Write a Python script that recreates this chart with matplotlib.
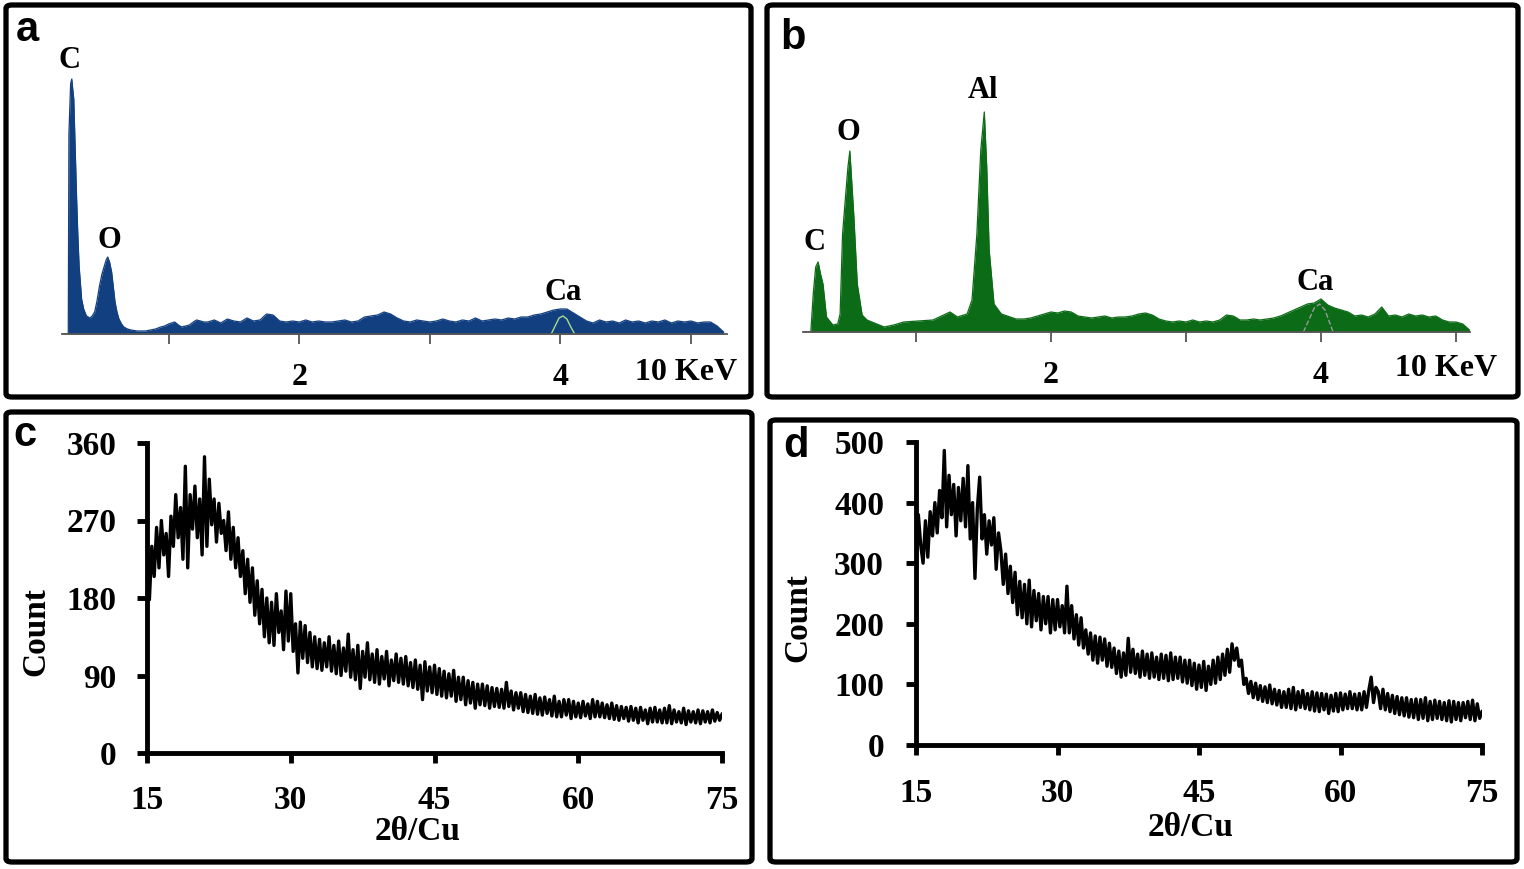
import numpy as np
import matplotlib
matplotlib.use('Agg')
import matplotlib.pyplot as plt
from matplotlib.patches import FancyBboxPatch

W, H = 1524, 869

# ---- (a) EDX spectrum, sample 1 : energy (keV) / counts (arb.) ----
a_peak_E = [0.184, 0.232, 0.237, 0.250, 0.259, 0.266, 0.274, 0.285, 0.296, 0.305,
            0.315, 0.334, 0.350, 0.371, 0.397, 0.415, 0.434, 0.452, 0.471, 0.490,
            0.508, 0.522, 0.534, 0.548, 0.564, 0.578, 0.590, 0.605, 0.620, 0.640,
            0.657, 0.685, 0.712, 0.760, 0.824, 0.860, 0.900, 0.940, 0.970, 1.000,
            1.047, 1.075, 1.100, 1.130, 1.160, 1.190, 1.214, 1.245, 1.270]
a_peak_h = [0, 0, 200, 250, 255, 245, 235, 185, 135, 100,
            68, 35, 25, 18, 16, 18, 22, 33, 48, 60,
            68, 74, 77, 72, 62, 46, 32, 22, 15, 10,
            7, 5, 4, 3, 3, 4, 5, 7, 8, 10,
            12, 9, 7, 8, 9, 12, 14, 13, 12]
a_flat_E = np.round(np.arange(1.30, 5.26, 0.05), 2)
a_flat_h = [12, 14, 11, 15, 13, 12, 16, 13, 14,
            20, 19, 13,
            12, 13, 12, 14, 12, 13, 12, 12, 13, 14, 12, 13,
            17, 18, 19, 22, 20, 16,
            13, 12, 14, 13, 12, 13, 15, 13, 12, 14, 13, 16, 13,
            14, 15, 14, 16, 15, 17, 17,
            19, 20, 22, 24,
            25, 25,
            21, 17,
            13, 11, 14, 12, 13, 11, 14, 12, 13, 11, 13, 12, 14, 11, 13, 12, 13, 11, 12, 12,
            8, 2]
a_ca_E = [3.93, 3.96, 3.99, 4.02, 4.05, 4.08, 4.11]
a_ca_h = [0, 8, 16, 18, 15, 7, 0]

# ---- (b) EDX spectrum, sample 2 ----
b_peak_E = [0.163, 0.221, 0.239, 0.257, 0.275, 0.293, 0.311, 0.337, 0.384, 0.420,
            0.438, 0.456, 0.482, 0.496, 0.510, 0.525, 0.540, 0.565, 0.601, 0.637,
            0.691, 0.764, 0.836, 0.909, 1.017, 1.126, 1.252, 1.307, 1.379, 1.415,
            1.451, 1.480, 1.506, 1.524, 1.542, 1.578, 1.632, 1.741]
b_peak_h = [0, 0, 38, 65, 70, 58, 48, 15, 7, 8,
            18, 98, 142, 165, 181, 148, 115, 48, 17, 12,
            9, 5, 7, 10, 11, 12, 20, 15, 18, 32,
            98, 182, 220, 165, 82, 28, 18, 13]
b_flat_E = np.round(np.arange(1.80, 5.11, 0.05), 2)
b_flat_h = [13, 14, 16, 18,
            20, 19, 21, 20,
            16, 15, 14, 15, 16, 14, 15, 15, 16,
            18, 19, 17,
            13, 11, 10, 11, 10, 12, 10, 11, 10, 12,
            17, 16, 12,
            12, 13, 12, 13, 14, 16,
            19, 22, 25,
            28, 29,
            33, 27,
            24, 22, 20,
            16, 17, 15, 18, 25, 16, 17, 15, 18, 16, 17, 15, 16,
            12, 10, 10, 8,
            2]
b_ca_E = [3.87, 3.91, 3.95, 3.99, 4.03, 4.06, 4.09]
b_ca_h = [0, 12, 24, 28, 22, 11, 0]

edx_ticks = [1, 2, 3, 4, 5]
edx_ticklabels = ['', '2', '', '4', '']

# ---- (c), (d) XRD patterns : 2theta 15..75 step 0.25 ----
two_theta = np.round(np.arange(15, 75.001, 0.25), 2)
xrd_c = [250, 178, 240, 205, 262, 215, 270, 230, 255, 205, 275, 240,
         300, 250, 285, 225, 333, 215, 300, 260, 310, 250, 295, 230,
         344, 240, 318, 265, 295, 245, 290, 255, 270, 235, 280, 225,
         262, 215, 250, 205, 235, 185, 225, 175, 215, 160, 200, 150,
         190, 135, 180, 128, 175, 125, 185, 140, 165, 120, 188, 130,
         185, 118, 150, 93, 152, 110, 148, 105, 140, 100, 135, 98,
         132, 96, 128, 100, 135, 95, 125, 92, 130, 90, 122, 95,
         138, 88, 120, 85, 125, 75, 118, 88, 128, 85, 115, 82,
         120, 80, 112, 86, 118, 78, 108, 84, 115, 82, 110, 80,
         112, 78, 105, 76, 108, 74, 102, 62, 106, 72, 100, 70,
         102, 68, 98, 66, 95, 64, 92, 66, 96, 60, 88, 62,
         88, 56, 84, 58, 82, 52, 80, 56, 80, 55, 78, 52,
         76, 54, 75, 53, 74, 52, 82, 54, 72, 50, 70, 52,
         70, 48, 68, 47, 66, 46, 68, 45, 64, 44, 65, 46,
         62, 43, 66, 42, 60, 42, 62, 44, 62, 40, 60, 42,
         58, 41, 60, 43, 57, 40, 62, 42, 60, 42, 58, 41,
         56, 40, 58, 39, 55, 38, 54, 40, 53, 37, 54, 38,
         52, 35, 53, 38, 50, 34, 52, 36, 53, 36, 50, 35,
         52, 35, 55, 34, 50, 36, 48, 35, 52, 33, 49, 36,
         48, 35, 50, 34, 49, 36, 48, 35, 50, 37, 47, 38,
         45]
xrd_d = [290, 380, 330, 300, 370, 310, 385, 345, 400, 350, 420, 375,
         486, 360, 445, 380, 430, 345, 425, 370, 440, 360, 461, 340,
         400, 275, 390, 442, 340, 380, 315, 370, 330, 375, 290, 350,
         320, 265, 315, 250, 295, 235, 285, 215, 270, 210, 265, 200,
         272, 195, 255, 205, 250, 190, 245, 200, 245, 185, 240, 190,
         240, 195, 230, 185, 262, 185, 230, 175, 215, 165, 210, 160,
         190, 150, 185, 140, 180, 135, 178, 140, 175, 130, 168, 128,
         160, 118, 155, 112, 152, 115, 176, 120, 158, 118, 150, 112,
         155, 115, 150, 110, 152, 112, 145, 108, 150, 110, 148, 106,
         152, 108, 145, 110, 145, 104, 140, 102, 140, 98, 135, 92,
         132, 95, 138, 90, 130, 100, 140, 102, 145, 108, 150, 115,
         158, 120, 167, 140, 160, 130, 140, 100, 110, 85, 105, 78,
         102, 75, 98, 72, 96, 70, 99, 68, 92, 66, 90, 62,
         88, 62, 92, 60, 95, 58, 88, 62, 90, 60, 85, 58,
         88, 56, 86, 55, 85, 58, 84, 52, 82, 56, 85, 55,
         86, 58, 84, 60, 88, 60, 84, 58, 85, 58, 88, 62,
         90, 112, 70, 95, 88, 60, 92, 58, 85, 55, 82, 52,
         80, 50, 78, 48, 78, 46, 75, 45, 76, 42, 75, 44,
         78, 40, 72, 42, 74, 44, 72, 42, 70, 40, 73, 38,
         72, 42, 70, 40, 70, 45, 72, 42, 74, 40, 68, 44,
         55]
xrd_ticks = [15, 30, 45, 60, 75]
c_yticks = [0, 90, 180, 270, 360]
d_yticks = [0, 100, 200, 300, 400, 500]

serif = 'Liberation Serif'
sans = 'Liberation Sans'
blue = '#123f80'
green = '#0c6b16'

fig = plt.figure(figsize=(W / 100, H / 100), dpi=100)


def px_axes(x0, y_top, x1, y_bot):
    return fig.add_axes([x0 / W, 1 - y_bot / H, (x1 - x0) / W, (y_bot - y_top) / H])


def panel_box(x0, y0, x1, y1):
    fig.add_artist(FancyBboxPatch((x0 / W, 1 - y1 / H), (x1 - x0) / W, (y1 - y0) / H,
                                  boxstyle='round,pad=0,rounding_size=0.004',
                                  transform=fig.transFigure, fill=False,
                                  ec='black', lw=3.8))


def edx_panel(ax, E, h, col, ca_E, ca_h, ca_style, xlim, labels):
    ax.fill_between(E, h, color=col, lw=0)
    ax.plot(E, h, color=col, lw=0.9)
    ax.plot(ca_E, ca_h, **ca_style)
    ax.set_xlim(*xlim)
    ax.set_ylim(0, 275)
    for s in ['left', 'right', 'top']:
        ax.spines[s].set_visible(False)
    ax.spines['bottom'].set_color('#555555')
    ax.spines['bottom'].set_linewidth(1.3)
    ax.set_yticks([])
    ax.set_xticks(edx_ticks)
    ax.set_xticklabels(edx_ticklabels, fontsize=23, fontweight='bold', family=serif)
    ax.tick_params(axis='x', direction='out', length=7, width=1.3, color='#555555', pad=14)
    for txt, ex, ey in labels:
        ax.text(ex, ey, txt, ha='center', va='center', fontsize=22,
                fontweight='bold', family=serif)
    ax.patch.set_alpha(0)


def xrd_panel(ax, y, yticks, ymax, padx, pady):
    ax.plot(two_theta, y, color='black', lw=2.4)
    ax.set_xlim(15, 75)
    ax.set_ylim(0, ymax)
    ax.set_xticks(xrd_ticks)
    ax.set_yticks(yticks)
    for s in ['right', 'top']:
        ax.spines[s].set_visible(False)
    for s in ['left', 'bottom']:
        ax.spines[s].set_linewidth(3.5)
    ax.tick_params(axis='both', direction='out', length=7, width=3.5, labelsize=24)
    ax.tick_params(axis='x', pad=padx)
    ax.tick_params(axis='y', pad=pady)
    for lab in ax.get_xticklabels() + ax.get_yticklabels():
        lab.set_family(serif)
        lab.set_fontweight('bold')
    ax.patch.set_alpha(0)


# panel a
ax_a = px_axes(62, 59, 727, 334)
edx_panel(ax_a, list(a_peak_E) + list(a_flat_E), a_peak_h + a_flat_h, blue,
          a_ca_E, a_ca_h, dict(color='#a8dc8c', lw=1.0), (0.184, 5.276),
          [('C', 0.245, 274), ('O', 0.544, 93), ('Ca', 4.02, 42)])
ax_a.text(4.96, -38 / 275, '10 KeV', transform=ax_a.get_xaxis_transform(),
          ha='center', va='center', fontsize=23, fontweight='bold', family=serif)

# panel b
ax_b = px_axes(803, 57, 1470, 332)
edx_panel(ax_b, list(b_peak_E) + list(b_flat_E), b_peak_h + b_flat_h, green,
          b_ca_E, b_ca_h, dict(color='#9a9a9a', lw=1.0, ls='--'), (0.163, 5.104),
          [('C', 0.25, 90), ('O', 0.50, 200), ('Al', 1.50, 242), ('Ca', 3.96, 49)])
ax_b.text(4.93, -36 / 275, '10 KeV', transform=ax_b.get_xaxis_transform(),
          ha='center', va='center', fontsize=23, fontweight='bold', family=serif)

# panel c
ax_c = px_axes(147, 443, 722, 753)
xrd_panel(ax_c, xrd_c, c_yticks, 360, 16, 15)

# panel d
ax_d = px_axes(916, 442, 1482, 745)
xrd_panel(ax_d, xrd_d, d_yticks, 500, 17, 16)

# axis titles
for x, y in [(36, 632), (798, 618)]:
    fig.text(x / W, 1 - y / H, 'Count', rotation=90, ha='center', va='center',
             fontsize=24, fontweight='bold', family=serif)
for x, y in [(418, 831), (1191, 828)]:
    fig.text(x / W, 1 - y / H, '2\u03b8/Cu', ha='center', va='center',
             fontsize=24, fontweight='bold', family=serif)

# panel letters
for letter, x, y in [('a', 27, 30), ('b', 793, 38), ('c', 25, 435), ('d', 796, 446)]:
    fig.text(x / W, 1 - y / H, letter, ha='center', va='center',
             fontsize=30, fontweight='bold', family=sans)

# panel frames
panel_box(6, 5, 751, 397)
panel_box(767, 5, 1518, 397)
panel_box(6, 412, 752, 862)
panel_box(770, 420, 1517, 862)

fig.savefig('out.png', dpi=100)
